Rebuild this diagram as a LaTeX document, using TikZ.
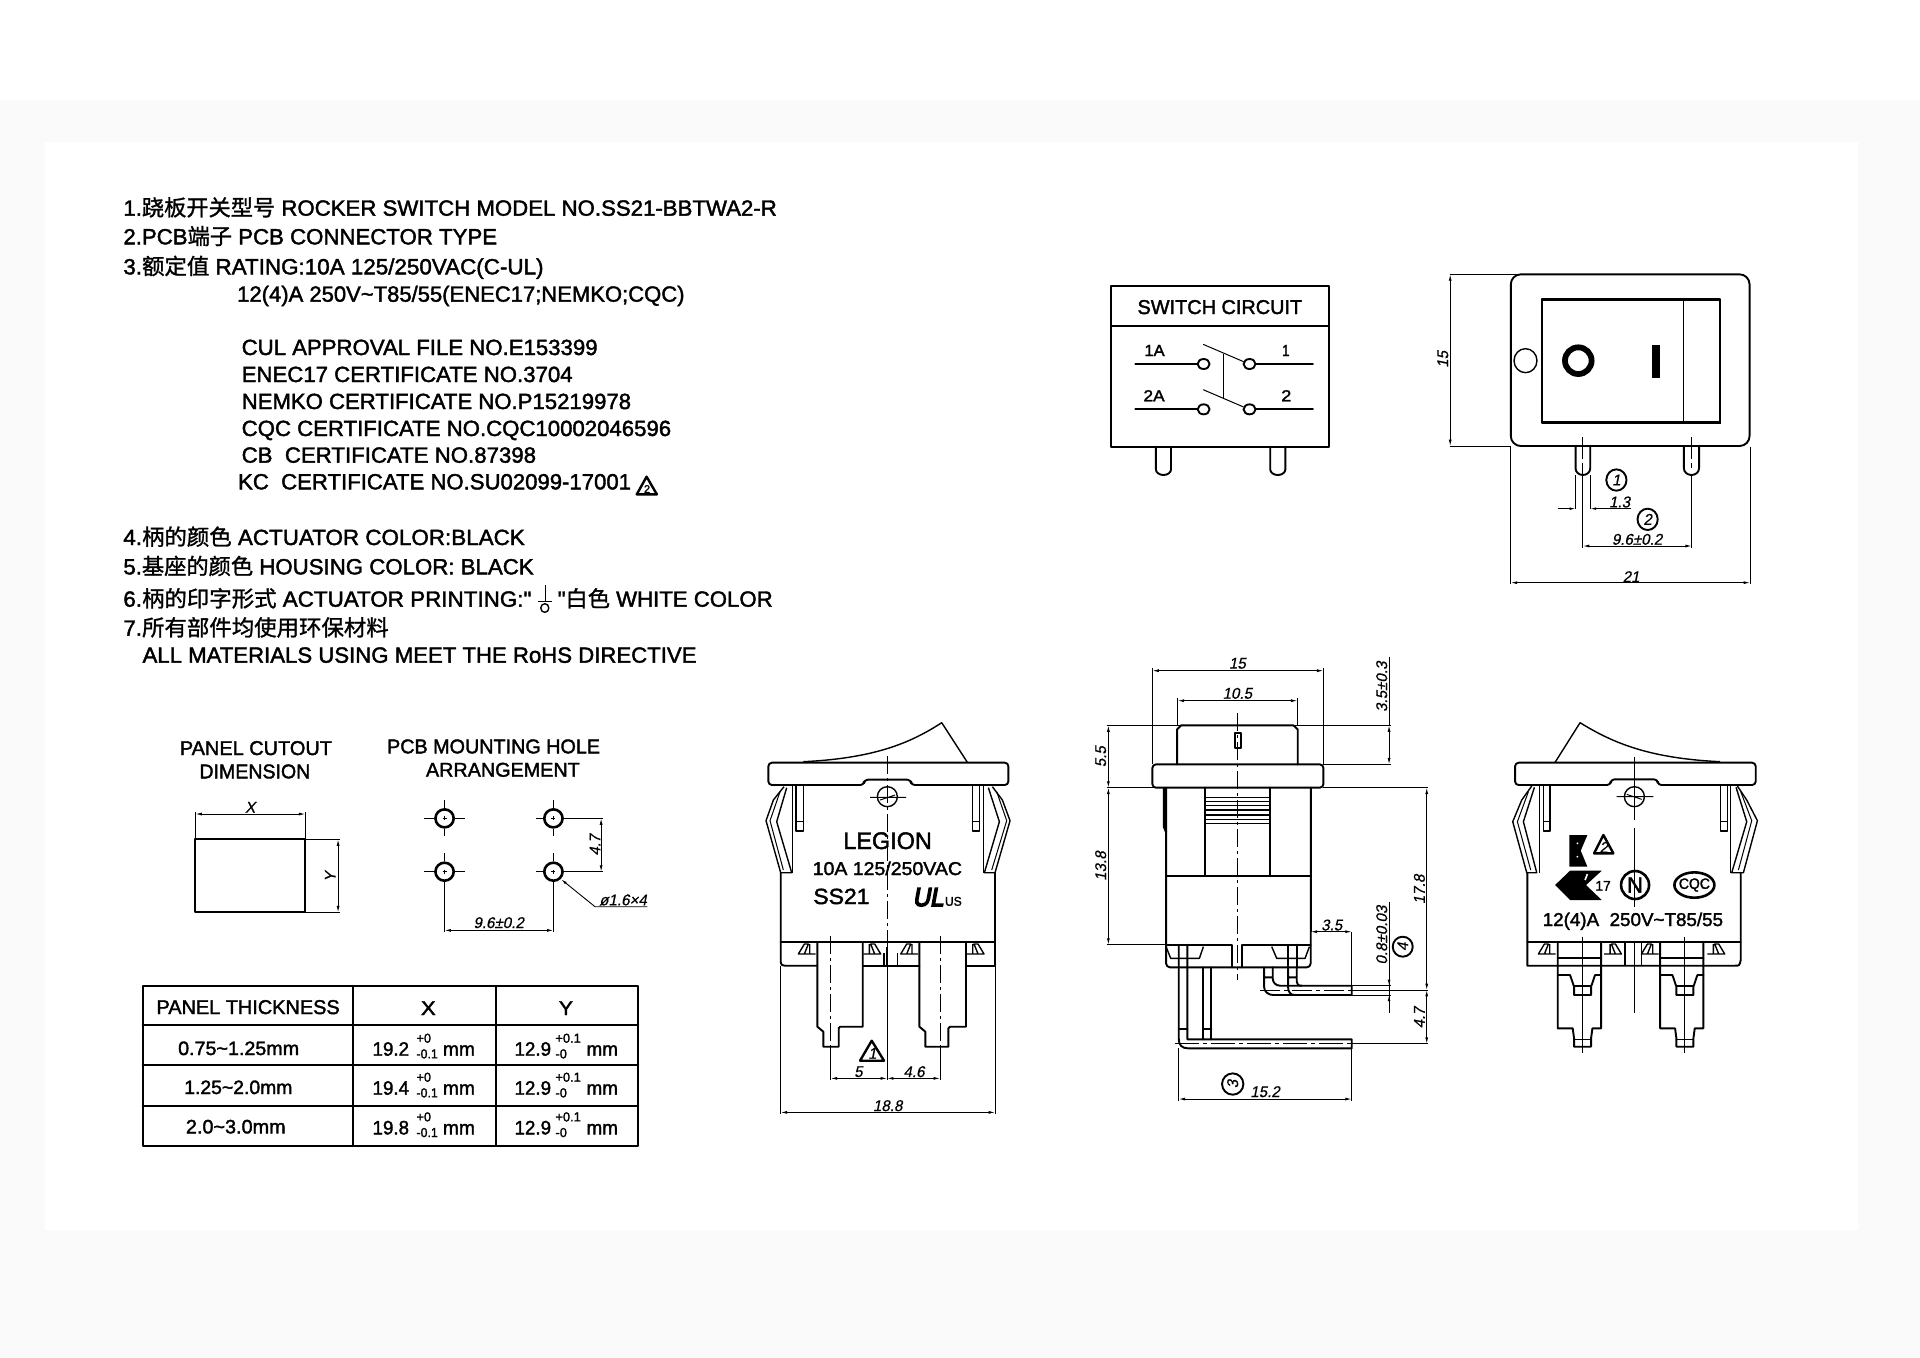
\documentclass[tikz,border=0pt]{standalone}
\usepackage{fontspec}
\usepackage{graphicx}
\usetikzlibrary{arrows.meta}
\setmainfont{Liberation Sans}
\newfontfamily\cjk[FakeBold=1.2]{Noto Sans CJK SC}
\newfontfamily\mainf[FakeBold=1.8]{Liberation Sans}
\newfontfamily\ulf[FakeBold=6,FakeSlant=0.2]{Liberation Sans}
\newfontfamily\dimf[FakeStretch=0.97,FakeSlant=0.2,FakeBold=0.5]{Liberation Sans}
\definecolor{bandgray}{HTML}{FAFAFA}
\tikzset{
  Z/.style 2 args={x=0.16667pt,y=-0.16667pt,shift={(#1,#2)}},
  ol/.style={line width=0.95pt,line join=round,line cap=round},
  mid/.style={line width=0.7pt,line join=round},
  thn/.style={line width=0.45pt},
  ctr/.style={line width=0.45pt,dash pattern=on 9pt off 2pt on 1.5pt off 2pt},
  dimln/.style={line width=0.45pt,{Latex[length=3.2pt,width=1.5pt]}-{Latex[length=3.2pt,width=1.5pt]}},
  txt/.style={inner sep=0pt,outer sep=0pt,anchor=base west},
  dimtxt/.style={inner sep=0pt,outer sep=0pt,font=\dimf\fontsize{7.8}{8}\selectfont},
}
\def\wfn{167}
% name, x, y (baseline left), size, width, text
\newcommand\Tx[6]{\node[txt] (#1) at (#2,#3) {\fontsize{#4}{#4}\selectfont\mainf\resizebox{\dimexpr #5pt*\wfn/1000\relax}{\height}{#6}};}
% name, centre x, centre y, rotation, text
\newcommand\Dm[5]{\node[dimtxt,rotate=#4] (#1) at (#2,#3) {#5};}
\newcommand\ZigL[1]{\begin{scope}[shift={(#1,0)}]\draw[mid] (0,762)--(18,732)--(30,732)--(18,762)--cycle (34,732)--(34,762) (0,762)--(52,762);\end{scope}}
\newcommand\ZigR[1]{\begin{scope}[shift={(#1,0)}]\draw[mid] (52,762)--(34,732)--(22,732)--(34,762)--cycle (18,732)--(18,762) (0,762)--(52,762);\end{scope}}
\begin{document}
\begin{tikzpicture}[x=0.5pt,y=-0.5pt]
\useasboundingbox (0,0) rectangle (1920,1358);
\fill[white] (0,0) rectangle (1920,1358);
\fill[bandgray] (0,100) rectangle (1920,1358);
\fill[white] (45,142) rectangle (1858,1230);

%%% notes block (crop scale 2.24 x 3)
\begin{scope}[x=0.2232pt,y=-0.16667pt,shift={(246.4,540)}]
\def\wfn{223}
\Tx{n1}{30}{107}{11}{1465}{1.{\cjk 跷板开关型号} ROCKER SWITCH MODEL NO.SS21-BBTWA2-R}
\Tx{n2}{30}{193}{11}{838}{2.PCB{\cjk 端子} PCB CONNECTOR TYPE}
\Tx{n3}{30}{283}{11}{942}{3.{\cjk 额定值} RATING:10A 125/250VAC(C-UL)}
\Tx{n3b}{285}{365}{11}{1003}{12(4)A 250V\char"7E T85/55(ENEC17;NEMKO;CQC)}
\Tx{c1}{295}{525}{11}{798}{CUL APPROVAL FILE NO.E153399}
\Tx{c2}{295}{606}{11}{742}{ENEC17 CERTIFICATE NO.3704}
\Tx{c3}{295}{687}{11}{873}{NEMKO CERTIFICATE NO.P15219978}
\Tx{c4}{295}{768}{11}{963}{CQC CERTIFICATE NO.CQC10002046596}
\Tx{c5}{295}{848}{11}{660}{CB\ \ CERTIFICATE NO.87398}
\Tx{c6}{287}{928}{11}{881}{KC\ \ CERTIFICATE NO.SU02099-17001}
\draw[ol,line width=1.2pt] (1202,890)--(1180,943)--(1225,943)--cycle;
\node[inner sep=0pt,font=\mainf\fontsize{5.5}{5.5}\selectfont] (tri2) at (1203,927) {2};
\Tx{n4}{30}{1095}{11}{900}{4.{\cjk 柄的颜色} ACTUATOR COLOR:BLACK}
\Tx{n5}{30}{1183}{11}{920}{5.{\cjk 基座的颜色} HOUSING COLOR: BLACK}
\Tx{n6a}{30}{1280}{11}{915}{6.{\cjk 柄的印字形式} ACTUATOR PRINTING:"}
\draw[line width=0.7pt] (975,1215)--(975,1262) (958,1265)--(990,1265);
\draw[mid] (974,1284) ellipse [x radius=9,y radius=13];
\Tx{n6b}{1003}{1280}{11}{482}{"{\cjk 白色} WHITE COLOR}
\Tx{n7}{30}{1367}{11}{595}{7.{\cjk 所有部件均使用环保材料}}
\Tx{n7b}{73}{1448}{11}{1242}{ALL MATERIALS USING MEET THE RoHS DIRECTIVE}
\end{scope}

%%% panel cutout, holes, table (crop scale 2.958 x 3)
\begin{scope}[x=0.16903pt,y=-0.16667pt,shift={(385,2160)}]
\def\wfn{169}
\Tx{pc1}{147}{105}{10}{450}{PANEL CUTOUT}
\Tx{pc2}{205}{175}{10}{328}{DIMENSION}
\Tx{pm1}{760}{100}{10}{630}{PCB MOUNTING HOLE}
\Tx{pm2}{875}{170}{10}{455}{ARRANGEMENT}
\draw[ol] (193,358) rectangle (518,577);
\coordinate (pxa) at (193,282); \coordinate (pxb) at (518,282);
\draw[thn] (193,358)--(193,275) (518,358)--(518,275) (518,358)--(622,358) (518,577)--(622,577);
\draw[dimln] (pxa)--(pxb);
\coordinate (pya) at (615,358); \coordinate (pyb) at (615,577);
\draw[dimln] (pya)--(pyb);
\Dm{dx}{355}{262}{0}{X}
\Dm{dy}{592}{470}{90}{Y}
\foreach \cx/\cy in {930/295,1252/295,930/455,1252/455}{
  \draw[line width=1.3pt] (\cx,\cy) circle [radius=27];
  \draw[thn] (\cx,\cy-55)--(\cx,\cy-32) (\cx,\cy+32)--(\cx,\cy+54);
  \draw[thn] (\cx-6,\cy)--(\cx+6,\cy) (\cx,\cy-6)--(\cx,\cy+6);
}
\draw[thn] (870,295)--(900,295) (870,455)--(900,455) (960,295)--(990,295) (960,455)--(990,455);
\draw[thn] (1200,295)--(1222,295) (1200,455)--(1222,455);
\draw[thn] (1282,295)--(1398,295) (1282,455)--(1398,455);
\draw[thn] (930,484)--(930,637) (1252,484)--(1252,637);
\draw[dimln] (1393,295)--(1393,455);
\Dm{d47}{1375}{375}{90}{4.7}
\draw[dimln] (930,631)--(1252,631);
\Dm{d96}{1090}{608}{0}{9.6±0.2}
\draw[thn,{Latex[length=3pt,width=1.4pt]}-] (1275,478)--(1375,560)--(1530,560);
\Dm{dph}{1458}{540}{0}{ø1.6×4}
% table
\draw[ol] (37,797) rectangle (1503,1277);
\draw[ol] (660,797)--(660,1277) (1083,797)--(1083,1277) (37,916)--(1503,916) (37,1035)--(1503,1035) (37,1157)--(1503,1157);
\Tx{th}{78}{882}{10}{542}{PANEL THICKNESS}
\Tx{tx}{860}{885}{10}{44}{X}
\Tx{ty}{1268}{885}{10}{42}{Y}
\Tx{r1}{142}{1005}{9.7}{358}{0.75\char"7E 1.25mm}
\Tx{r2}{160}{1122}{9.7}{320}{1.25\char"7E 2.0mm}
\Tx{r3}{165}{1240}{9.7}{295}{2.0\char"7E 3.0mm}
\foreach \b/\v/\nm in {1007/19.2/a,1124/19.4/b,1243/19.8/c}{
  \Tx{x\nm}{717}{\b}{9.7}{108}{\v}
  \Tx{xm\nm}{925}{\b}{9.7}{95}{mm}
  \Tx{xp\nm}{847}{\b-39}{6.5}{43}{+0}
  \Tx{xn\nm}{847}{\b+8}{6.5}{63}{-0.1}
  \Tx{y\nm}{1137}{\b}{9.7}{108}{12.9}
  \Tx{ym\nm}{1350}{\b}{9.7}{93}{mm}
  \Tx{yp\nm}{1258}{\b-39}{6.5}{75}{+0.1}
  \Tx{yn\nm}{1258}{\b+8}{6.5}{34}{-0}
}
\end{scope}

%%% switch circuit and top view (crop scale 2.178 x 3)
\begin{scope}[x=0.22957pt,y=-0.16667pt,shift={(2352.5,750)}]
\def\wfn{230}
\draw[ol] (68,107) rectangle (542,590);
\draw[ol] (68,229)--(542,229);
\Tx{sc}{125}{192}{10}{358}{SWITCH CIRCUIT}
\foreach \yy in {342,478}{
  \draw[ol] (120,\yy)--(256,\yy) (382,\yy)--(507,\yy);
  \draw[ol] (269,\yy) ellipse [x radius=13,y radius=15] (369,\yy) ellipse [x radius=13,y radius=15];
  \draw[line width=0.5pt] (268,\yy-59)--(356,\yy-7);
}
\draw[line width=0.5pt] (312,312)--(312,448);
\Tx{l1a}{140}{318}{8}{44}{1A}
\Tx{l1}{440}{318}{8}{16}{1}
\Tx{l2a}{138}{454}{8}{46}{2A}
\Tx{l2}{438}{454}{8}{22}{2}
\draw[ol] (165,590)--(165,658) arc[start angle=180,end angle=360,x radius=16.5,y radius=-17] --(198,590);
\draw[ol] (414,590)--(414,658) arc[start angle=180,end angle=360,x radius=16.5,y radius=-17] --(447,590);
% top view
\draw[ol,rounded corners=5pt] (938,73) rectangle (1458,588);
\draw[ol] (1005,148) rectangle (1393,518);
\draw[line width=1.7pt] (1005,149)--(1393,149);
\draw[line width=1.2pt] (1393,149)--(1393,518)--(1005,518);
\draw[mid] (1314,148)--(1314,518);
\draw[line width=2.9pt] (1085,332) ellipse [x radius=29,y radius=40];
\fill (1246,285) rectangle (1262,385);
\draw[mid] (970,332) ellipse [x radius=25,y radius=36];
\draw[ol] (1079,590)--(1079,655) arc[start angle=180,end angle=360,x radius=16,y radius=-20] --(1111,590);
\draw[ol] (1315,590)--(1315,655) arc[start angle=180,end angle=360,x radius=16.5,y radius=-20] --(1348,590);
\draw[thn] (1095,562)--(1095,590) (1332,562)--(1332,590);
\draw[thn,dash pattern=on 6pt off 2pt] (1095,590)--(1095,655) (1332,590)--(1332,655);
\draw[thn] (805,73)--(960,73) (805,588)--(938,588);
\draw[dimln] (806,73)--(806,588);
\Dm{v15}{790}{328}{90}{15}
\draw[thn] (938,590)--(938,1003) (1459,590)--(1459,1003);
\draw[dimln] (938,998)--(1459,998);
\Dm{v21}{1200}{980}{0}{21}
\draw[thn] (1079,675)--(1079,778) (1111,675)--(1111,778);
\draw[thn,-{Latex[length=3pt,width=1.4pt]}] (1040,776)--(1079,776);
\draw[thn,-{Latex[length=3pt,width=1.4pt]}] (1200,776)--(1111,776);
\Dm{v13}{1175}{756}{0}{1.3}
\draw[ol] (1168,690) ellipse [x radius=22,y radius=32];
\Dm{c1t}{1168}{690}{0}{1}
\draw[ol] (1236,808) ellipse [x radius=22,y radius=32];
\Dm{c2t}{1236}{808}{0}{2}
\draw[thn] (1095,655)--(1095,893) (1332,675)--(1332,893);
\draw[dimln] (1095,888)--(1332,888);
\Dm{v96}{1213}{868}{0}{9.6±0.2}
\end{scope}

%%% front view
\begin{scope}[Z={2220}{2100}]
\draw[ol,rounded corners=1.8pt] (85,255)--(85,188)--(805,188)--(805,255)--(513,255)--(513,239)--(372,239)--(372,255)--cycle;
\draw[mid] (190,185) .. controls (400,175) and (510,130) .. (605,68) -- (682,187);
\draw[mid] (442,290) circle [radius=30];
\draw[thn] (390,292)--(498,292) (420,300)--(465,285);
\draw[ctr] (441,168)--(441,800);
\draw[mid] (132,260)--(100,300)--(78,362)--(122,518)--(155,518)--(110,365)--(140,263);
\draw[mid] (757,260)--(787,300)--(810,362)--(765,518)--(733,518)--(778,365)--(745,263);
\draw[line width=0.5pt] (120,275)--(90,362)--(130,510) (770,275)--(800,362)--(755,510);
\draw[mid] (157,258)--(157,518) (730,258)--(730,518);
\draw[mid] (168,258)--(168,393)--(190,393)--(190,258) (168,365)--(190,365);
\draw[mid] (697,258)--(697,393)--(718,393)--(718,258) (697,365)--(718,365);
\draw[ol] (122,518)--(122,785) .. controls (124,795) .. (135,797) --(232,797);
\draw[ol] (765,518)--(765,797)--(678,797) (368,797)--(538,797);
\draw[ol] (122,727)--(765,727);
\draw[ol] (232,727)--(232,980)--(250,995)--(250,1040)--(296,1040)--(296,985)--(300,980)--(368,980)--(368,727);
\draw[ol] (538,727)--(538,980)--(556,995)--(556,1040)--(625,1040)--(625,985)--(630,980)--(678,980)--(678,727);
\draw[mid] (432,760)--(432,797) (472,760)--(472,797);
\draw[line width=1.1pt] (441,740)--(441,795);
\ZigL{175} \ZigR{370} \ZigL{482} \ZigR{680}
\draw[ctr] (272,708)--(272,1040) (600,708)--(600,1040);
\Tx{leg}{310}{447}{12}{265}{LEGION}
\Tx{rate}{218}{525}{9.3}{447}{10A 125/250VAC}
\Tx{ss}{220}{612}{11}{168}{SS21}
\node[txt] (ul) at (518,618) {\fontsize{13}{13}\selectfont\ulf\resizebox{15.3pt}{\height}{UL}};
\Tx{us}{615}{617}{6.3}{50}{US}
\draw[line width=1.2pt,line join=round] (395,1022)--(360,1082)--(432,1082)--cycle;
\Dm{tr1}{397}{1060}{0}{1}
\draw[thn] (272,1040)--(272,1140) (441,800)--(441,1140) (600,1040)--(600,1140);
\draw[dimln] (272,1135)--(441,1135);
\draw[dimln] (441,1135)--(600,1135);
\Dm{f5}{355}{1115}{0}{5}
\Dm{f46}{522}{1115}{0}{4.6}
\draw[thn] (122,797)--(122,1243) (765,797)--(765,1243);
\draw[dimln] (122,1237)--(765,1237);
\Dm{f188}{443}{1217}{0}{18.8}
\end{scope}

%%% side view
\begin{scope}[Z={3240}{1950}]
\draw[ol] (291,343)--(291,238)--(303,226)--(640,226)--(653,238)--(653,343);
\draw[ol,rounded corners=1.8pt] (217,413)--(217,343)--(730,343)--(730,413)--cycle;
\draw[ol] (464,250) rectangle (484,294);
\draw[ctr] (473,190)--(473,990);
\draw[ol,rounded corners=2pt] (258,413)--(258,952)--(692,952)--(692,413);
\draw[line width=1.2pt] (252,413)--(252,530)--(258,545);
\draw[line width=1.2pt] (692,413)--(692,845);
\draw[ol] (376,413)--(376,677) (569,413)--(569,677) (258,677)--(692,677);
\foreach \yy in {443,455,467,480,495,508,520} \draw[mid] (378,\yy)--(567,\yy);
\draw[ol] (258,884)--(456,884)--(456,952) (487,952)--(487,884)--(692,884);
\draw[mid] (258,890)--(272,925)--(358,925)--(370,890);
\draw[mid] (575,890)--(590,925)--(675,925)--(688,890);
\draw[ol] (624,884)--(624,952) (650,884)--(650,952);
% long pin
\draw[ol] (296,884)--(296,1165) .. controls (296,1185) and (305,1195) .. (325,1195)--(815,1195)--(815,1168)--(322,1168) (322,884)--(322,1168);
\draw[ol] (368,952)--(368,1168) (394,952)--(394,1168) (296,1138)--(322,1138) (368,1138)--(394,1138);
\draw[thn,dash pattern=on 12pt off 2pt on 2pt off 2pt] (285,1181)--(812,1181);
\draw[thn] (812,1181)--(1045,1181);
% short pins
\draw[ol] (552,952)--(552,1010) .. controls (552,1025) and (565,1035) .. (580,1035)--(815,1035)--(815,1007)--(600,1007) .. controls (588,1007) and (578,998) .. (578,985)--(578,952) (552,982)--(578,982);
\draw[ol] (624,952)--(624,1010) .. controls (624,1025) and (630,1035) .. (645,1035) (650,952)--(650,995) .. controls (650,1003) and (655,1007) .. (665,1007) (624,982)--(650,982);
\draw[thn,dash pattern=on 10pt off 2pt on 2pt off 2pt] (540,1020)--(812,1020);
\draw[thn] (812,1020)--(1045,1020);
% dimensions
\draw[thn] (217,343)--(217,55) (730,343)--(730,55);
\draw[dimln] (217,62)--(730,62);
\Dm{s15}{472}{40}{0}{15}
\draw[thn] (293,226)--(293,145) (652,226)--(652,145);
\draw[dimln] (293,152)--(652,152);
\Dm{s105}{472}{130}{0}{10.5}
\draw[thn] (80,226)--(932,226) (730,343)--(932,343);
\draw[thn] (927,20)--(927,226);
\draw[dimln] (927,226)--(927,343);
\Dm{s35}{905}{110}{90}{3.5±0.3}
\draw[thn] (80,413)--(258,413) (80,884)--(258,884);
\draw[dimln] (85,226)--(85,413);
\draw[dimln] (85,413)--(85,884);
\Dm{s55}{62}{320}{90}{5.5}
\Dm{s138}{62}{648}{90}{13.8}
\draw[thn] (730,413)--(1045,413);
\draw[dimln] (1040,413)--(1040,1020);
\draw[dimln] (1040,1020)--(1040,1181);
\Dm{s178}{1018}{718}{90}{17.8}
\Dm{s47}{1018}{1103}{90}{4.7}
\draw[thn] (815,845)--(815,1035);
\coordinate (sa) at (692,845);
\draw[dimln] (sa)--(815,845);
\Dm{s3}{755}{825}{0}{3.5}
\draw[thn] (815,1007)--(932,1007) (815,1035)--(932,1035);
\draw[thn] (927,755)--(927,1090);
\draw[thn,-{Latex[length=3pt,width=1.4pt]}] (927,975)--(927,1007);
\draw[thn,-{Latex[length=3pt,width=1.4pt]}] (927,1068)--(927,1035);
\Dm{s08}{905}{855}{90}{0.8±0.03}
\draw[ol] (968,890) circle [radius=30];
\Dm{sc4}{968}{890}{90}{4}
\draw[thn] (296,1195)--(296,1352) (815,1195)--(815,1352);
\draw[dimln] (296,1347)--(815,1347);
\Dm{s152}{555}{1325}{0}{15.2}
\draw[ol] (458,1302) circle [radius=32];
\Dm{sc3}{458}{1302}{90}{3}
\end{scope}

%%% back view
\begin{scope}[Z={4470}{2100}]
\draw[ol,rounded corners=1.8pt] (75,255)--(75,188)--(797,188)--(797,255)--(503,255)--(503,238)--(362,238)--(362,255)--cycle;
\draw[mid] (195,187)--(270,68) .. controls (370,130) and (480,175) .. (690,185);
\draw[mid] (433,290) circle [radius=30];
\draw[thn] (380,290)--(490,290) (410,283)--(455,298);
\draw[thn] (433,170)--(433,360) (433,385)--(433,620);
\draw[mid] (125,258)--(95,300)--(68,365)--(110,518)--(140,518)--(100,365)--(133,262);
\draw[mid] (742,258)--(770,300)--(802,362)--(760,518)--(725,518)--(770,365)--(738,262);
\draw[line width=0.5pt] (115,275)--(82,365)--(122,510) (752,275)--(785,362)--(745,510);
\draw[mid] (148,258)--(148,518) (722,258)--(722,518);
\draw[mid] (160,258)--(160,393)--(180,393)--(180,258) (160,365)--(180,365);
\draw[mid] (692,258)--(692,393)--(712,393)--(712,258) (692,365)--(712,365);
\draw[ol] (112,518)--(112,797)--(735,797) .. controls (748,797) .. (752,780)--(752,518);
\draw[ol] (112,727)--(752,727);
\draw[mid] (405,727)--(405,797) (455,727)--(455,797);
\foreach \dd in {0,307}{
\begin{scope}[shift={(\dd,0)}]
\draw[ol] (203,727)--(203,985)--(248,985)--(252,1015)--(252,1040)--(303,1040)--(303,1015)--(307,985)--(333,985)--(333,727);
\draw[ol] (203,775)--(333,775);
\draw[ol] (203,825)--(240,825)--(252,860)--(252,885)--(303,885)--(303,860)--(315,825)--(333,825);
\draw[mid] (252,858)--(303,858);
\draw[mid] (252,1018)--(303,1018);
\draw[thn] (277,710)--(277,1060);
\end{scope}
}
\draw[thn] (433,727)--(433,940);
\begin{scope}[shift={(-30,0)}] \ZigL{175} \end{scope}
\begin{scope}[shift={(-28,0)}] \ZigR{370} \end{scope}
\begin{scope}[shift={(-28,0)}] \ZigL{482} \end{scope}
\begin{scope}[shift={(-28,0)}] \ZigR{680} \end{scope}
\Tx{bk}{158}{678}{9.3}{540}{12(4)A\ \ 250V\char"7E T85/55}
% KC mark
\fill (238,405)--(292,405)--(272,452)--(292,500)--(238,500)--cycle;
\fill[white] (262,430) circle[radius=3] (262,470) circle[radius=3];
\draw[line width=1.2pt,line join=round] (340,405)--(312,460)--(370,460)--cycle;
\Dm{bk2}{341}{442}{0}{2}
% ENEC mark
\fill (195,555)--(240,512)--(335,512)--(288,555)--(335,600)--(240,600)--cycle;
\draw[white,line width=0.8pt] (285,540)--(292,522);
\Tx{b17}{316}{572}{7}{46}{17}
% N mark
\draw[line width=1.3pt] (435,555) circle [radius=42];
\node[inner sep=0pt,font=\mainf\fontsize{11}{11}\selectfont] (bn) at (435,555) {N};
% CQC mark
\draw[line width=1.3pt] (613,555) ellipse [x radius=60,y radius=38];
\node[inner sep=0pt] (bq) at (613,555) {\fontsize{7.5}{8}\selectfont\mainf\resizebox{15.5pt}{\height}{CQC}};
\end{scope}
\end{tikzpicture}
\end{document}
